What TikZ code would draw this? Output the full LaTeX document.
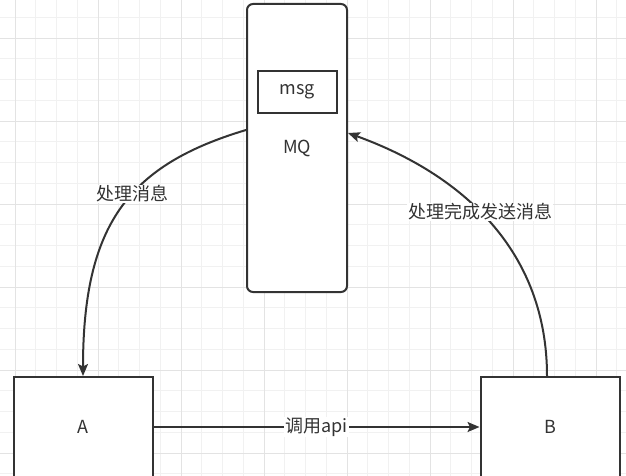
\documentclass[tikz,border=0pt]{standalone}
\usepackage{fontspec}
\newfontfamily\cjk{Noto Sans CJK SC}
\usetikzlibrary{arrows.meta}
\tikzset{
  minor grid/.style={
    draw=gray!11,
    line width=0.9pt
  },
  major grid/.style={
    draw=gray!22,
    line width=0.9pt
  },
  app box/.style={
    draw=black!80,
    fill=white,
    line width=2pt,
    inner sep=0pt,
    minimum width=139,
    minimum height=100,
    text=black!80,
    font=\cjk\fontsize{18}{21}\selectfont
  },
  queue box/.style={
    app box,
    rounded corners=6pt,
    minimum width=100,
    minimum height=288
  },
  msg box/.style={
    app box,
    minimum width=79,
    minimum height=42
  },
  flow/.style={
    -{Stealth[length=12pt,width=10pt,inset=2.5pt]},
    draw=black!80,
    line width=2pt
  },
  flow label/.style={
    fill=white,
    inner sep=1pt,
    text=black!80,
    font=\cjk\fontsize{18}{21}\selectfont
  }
}

\begin{document}
\begin{tikzpicture}[x=1pt, y=-1pt]
    \useasboundingbox (0,0) rectangle (626,476);
    \clip (0,0) rectangle (626,476);
    \fill[white] (0,0) rectangle (626,476);

    % 背景网格
    \foreach \x in {15,35.75,...,626} {
      \draw[minor grid] (\x, 0) -- (\x, 476);
    }
    \foreach \y in {17.25,38,...,476} {
      \draw[minor grid] (0, \y) -- (626, \y);
    }
    \foreach \x in {15,98,...,626} {
      \draw[major grid] (\x, 0) -- (\x, 476);
    }
    \foreach \y in {38,121,...,476} {
      \draw[major grid] (0, \y) -- (626, \y);
    }

    % 消息队列
    \node[queue box] (mq) at (297,148) {MQ};
    \node[msg box] (msg) at (297.5,92) {msg};

    % 服务 A 和 B
    \node[app box] (a) at (83,427) {A};
    \node[app box] (b) at (550,427) {B};

    % 连线
    \draw[flow] ([yshift=18pt]mq.west) .. controls +(-117,35) and +(0,-152) .. (a.north)
      node[flow label, pos=0.43] (lblhandle) {处理消息};
    \draw[flow] ([xshift=-3pt]b.north) .. controls +(0,-124) and +(116,42) .. ([yshift=15pt]mq.east)
      node[flow label, pos=0.55] (lbldone) {处理完成发送消息};
    \draw[flow] (a.east) -- (b.west)
      node[flow label, midway] (lblcall) {调用api};

  \end{tikzpicture}
\end{document}
